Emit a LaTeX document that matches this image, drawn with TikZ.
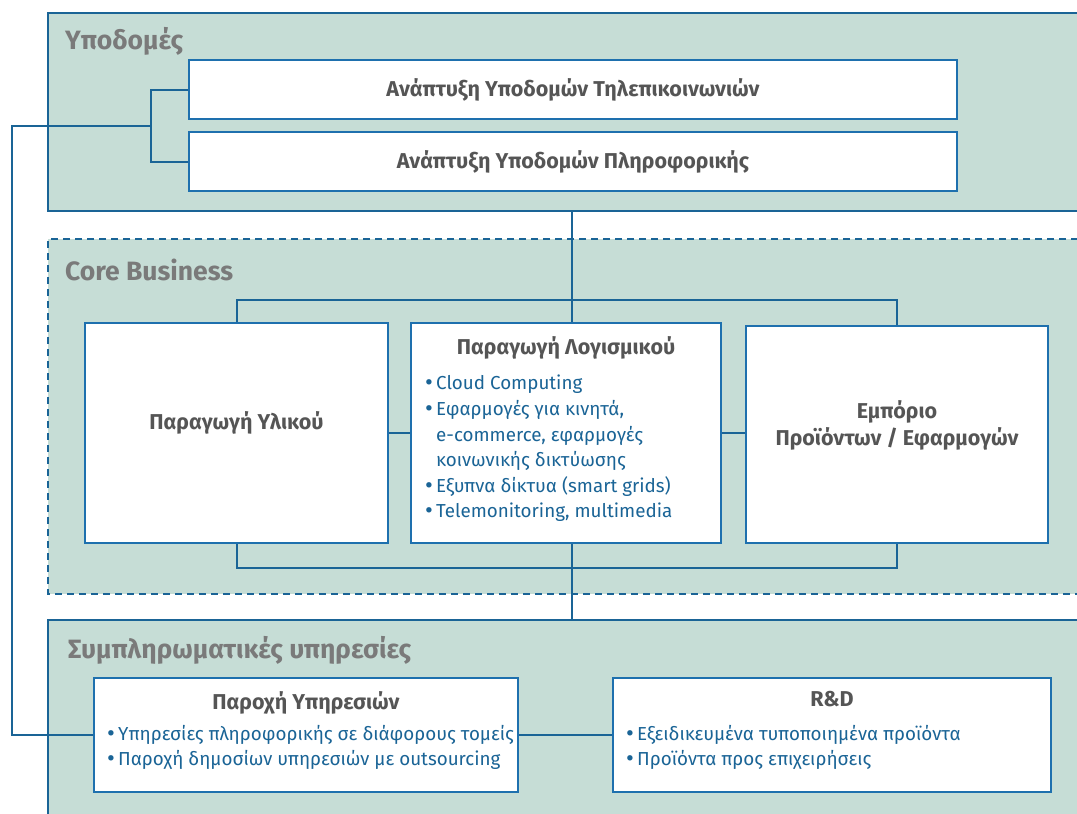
\documentclass[tikz,border=0pt]{standalone}
\usepackage{fontspec}
\setmainfont{Fira Sans}
\usetikzlibrary{positioning}
\definecolor{grpfill}{HTML}{C6DDD6}
\definecolor{lineblue}{HTML}{1A6496}
\definecolor{boxblue}{HTML}{1E70AE}
\definecolor{titlegray}{HTML}{555555}
\definecolor{grpgray}{HTML}{7A7A7A}
\newcommand{\bul}{\makebox[11pt][l]{{\fontsize{24}{24}\selectfont\raisebox{-1pt}{•}}}}
\newcommand{\ind}{\hspace*{11pt}}

\begin{document}
\begin{tikzpicture}[
          x=1pt,y=-1pt,
          grp/.style={draw=lineblue,line width=2pt},
          boxnode/.style={draw=boxblue,fill=white,line width=2pt,anchor=north west,inner sep=0pt},
          title/.style={font=\fontsize{21.5}{27}\selectfont\bfseries,text=titlegray,align=center},
          grplabel/.style={font=\fontsize{26.5}{30}\selectfont\bfseries,text=grpgray,anchor=base west,inner sep=0pt},
          bullets/.style={font=\fontsize{18.8}{25.6}\selectfont,text=lineblue,align=left,anchor=north west,inner sep=0pt},
          conn/.style={draw=lineblue,line width=2pt}
        ]
        \useasboundingbox (0,0) rectangle (1077,814);
        \fill[grpfill] (48,13) rectangle (1090,211);
        \draw[grp] (1090,13) -| (48,211) -- (1090,211);
        \fill[grpfill] (48,239) rectangle (1090,594);
        \draw[grp,dash pattern=on 7pt off 5pt] (1090,239) -| (48,594) -- (1090,594);
        \fill[grpfill] (48,620) rectangle (1090,830);
        \draw[grp] (1090,620) -| (48,830);

        \node[grplabel] (lblinfra) at (65,49) {Υποδομές};
        \node[grplabel] (lblcore) at (65,280) {Core Business};
        \node[grplabel] (lblsuppl) at (68,658) {Συμπληρωματικές υπηρεσίες};

        \node[boxnode,title,minimum width=768,minimum height=59] (telecom) at (188,59) {Ανάπτυξη Υποδομών Τηλεπικοινωνιών};
        \node[boxnode,title,minimum width=768,minimum height=59] (it) at (188,131) {Ανάπτυξη Υποδομών Πληροφορικής};

        \node[boxnode,minimum width=303,minimum height=220] (hardware) at (84,322) {};
        \node[boxnode,minimum width=310,minimum height=220] (software) at (410,322) {};
        \node[boxnode,minimum width=302,minimum height=217] (trade) at (745,325) {};
        \node[title] (hwtext) at ([yshift=10pt]hardware.center) {Παραγωγή Υλικού};
        \node[title] (tradetext) at ([yshift=9pt]trade.center) {Εμπόριο\\Προϊόντων / Εφαρμογών};
        \node[title,inner sep=0pt,below=14pt of software.north] (swtitle) {Παραγωγή Λογισμικού};
        \node[bullets] (swlist) at (425,375) {\bul Cloud Computing\\
          \bul Εφαρμογές για κινητά,\\
          \ind e-commerce, εφαρμογές\\
          \ind κοινωνικής δικτύωσης\\
          \bul Εξυπνα δίκτυα (smart grids)\\
          \bul Telemonitoring, multimedia};

        \node[boxnode,minimum width=424,minimum height=114] (services) at (93,677) {};
        \node[boxnode,minimum width=438,minimum height=114] (rnd) at (612,677) {};
        \node[title,inner sep=0pt,below=14pt of services.north] (svtitle) {Παροχή Υπηρεσιών};
        \node[title,inner sep=0pt,below=14pt of rnd.north] (rdtitle) {R\&D};
        \node[bullets] (svlist) at (107,725) {\bul Υπηρεσίες πληροφορικής σε διάφορους τομείς\\
          \bul Παροχή δημοσίων υπηρεσιών με outsourcing};
        \node[bullets] (rdlist) at (626,725) {\bul Εξειδικευμένα τυποποιημένα προϊόντα\\
          \bul Προϊόντα προς επιχειρήσεις};

        \coordinate (brk) at (151,126);
        \coordinate (farleft) at (12,126);
        \coordinate (infrabot) at (572,211);
        \coordinate (topbus) at (572,300);
        \coordinate (botbus) at (572,568);
        \coordinate (suppltop) at (572,620);

        \draw[conn] (telecom.west) -| (brk) |- (it.west);
        \draw[conn] (brk) -- (farleft) |- (services.west);
        \draw[conn] (infrabot) -- (infrabot |- software.north);
        \draw[conn] (hardware.north) |- (topbus) -| (trade.north);
        \draw[conn] (hardware.east) -- (software.west);
        \draw[conn] (software.east) -- (software.east -| trade.west);
        \draw[conn] (hardware.south) |- (botbus) -| (trade.south);
        \draw[conn] (botbus |- software.south) -- (suppltop);
        \draw[conn] (services.east) -- (rnd.west);
        \end{tikzpicture}
\end{document}
